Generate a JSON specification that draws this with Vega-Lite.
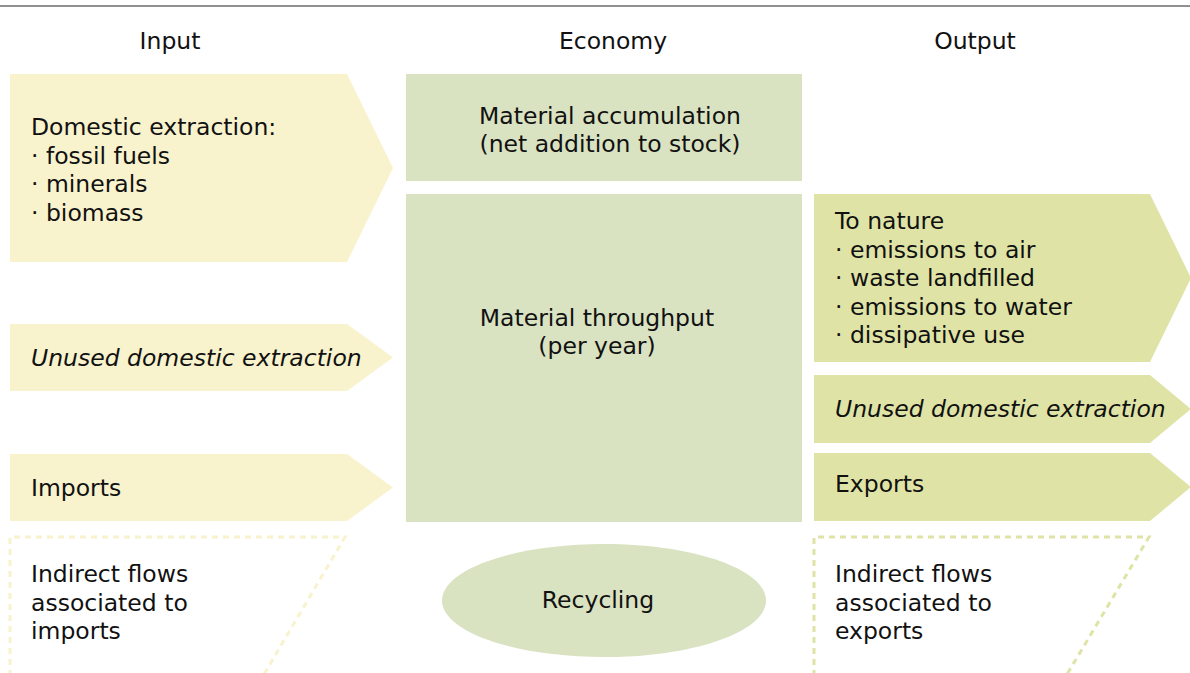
{
  "$schema": "https://vega.github.io/schema/vega-lite/v6.json",
  "width": 1190,
  "height": 673,
  "autosize": "none",
  "padding": 0,
  "background": "white",
  "config": {"view": {"stroke": null}, "font": "DejaVu Sans"},
  "datasets": {
    "arrows": [
      {"id": "in1", "grp": "input", "x": 10, "yt": 74, "yb": 262},
      {"id": "in1", "grp": "input", "x": 347, "yt": 74, "yb": 262},
      {"id": "in1", "grp": "input", "x": 393, "yt": 168, "yb": 168},
      {"id": "in2", "grp": "input", "x": 10, "yt": 324, "yb": 391},
      {"id": "in2", "grp": "input", "x": 347, "yt": 324, "yb": 391},
      {"id": "in2", "grp": "input", "x": 393, "yt": 357.5, "yb": 357.5},
      {"id": "in3", "grp": "input", "x": 10, "yt": 454, "yb": 521},
      {"id": "in3", "grp": "input", "x": 347, "yt": 454, "yb": 521},
      {"id": "in3", "grp": "input", "x": 393, "yt": 487.5, "yb": 487.5},
      {"id": "out1", "grp": "output", "x": 814, "yt": 194, "yb": 362},
      {"id": "out1", "grp": "output", "x": 1150, "yt": 194, "yb": 362},
      {"id": "out1", "grp": "output", "x": 1191, "yt": 278, "yb": 278},
      {"id": "out2", "grp": "output", "x": 814, "yt": 375, "yb": 443},
      {"id": "out2", "grp": "output", "x": 1150, "yt": 375, "yb": 443},
      {"id": "out2", "grp": "output", "x": 1191, "yt": 409, "yb": 409},
      {"id": "out3", "grp": "output", "x": 814, "yt": 453, "yb": 521},
      {"id": "out3", "grp": "output", "x": 1150, "yt": 453, "yb": 521},
      {"id": "out3", "grp": "output", "x": 1191, "yt": 487, "yb": 487}
    ],
    "boxes": [
      {"id": "accumulation", "x": 406, "x2": 802, "y": 74, "y2": 181},
      {"id": "throughput", "x": 406, "x2": 802, "y": 194, "y2": 522}
    ],
    "dashes": [
      {"id": "indirect_imports", "grp": "input", "ord": 1, "x": 10, "y": 676},
      {"id": "indirect_imports", "grp": "input", "ord": 2, "x": 10, "y": 537},
      {"id": "indirect_imports", "grp": "input", "ord": 3, "x": 345, "y": 537},
      {"id": "indirect_imports", "grp": "input", "ord": 4, "x": 263, "y": 676},
      {"id": "indirect_exports", "grp": "output", "ord": 1, "x": 814, "y": 676},
      {"id": "indirect_exports", "grp": "output", "ord": 2, "x": 814, "y": 537},
      {"id": "indirect_exports", "grp": "output", "ord": 3, "x": 1149, "y": 537},
      {"id": "indirect_exports", "grp": "output", "ord": 4, "x": 1066, "y": 676}
    ],
    "ellipses": [{"id": "recycling", "x": 604, "y": 600.5}],
    "frame": [{"x": 0, "x2": 1190, "y": 6}],
    "labelsLeft": [
      {"text": "Domestic extraction:\n· fossil fuels\n· minerals\n· biomass", "x": 31, "y": 128, "italic": false},
      {"text": "Unused domestic extraction", "x": 31, "y": 358.5, "italic": true},
      {"text": "Imports", "x": 31, "y": 488.5, "italic": false},
      {"text": "Indirect flows\nassociated to\nimports", "x": 31, "y": 575, "italic": false},
      {"text": "To nature\n· emissions to air\n· waste landfilled\n· emissions to water\n· dissipative use", "x": 835, "y": 222, "italic": false},
      {"text": "Unused domestic extraction", "x": 835, "y": 409.5, "italic": true},
      {"text": "Exports", "x": 835, "y": 485, "italic": false},
      {"text": "Indirect flows\nassociated to\nexports", "x": 835, "y": 575, "italic": false}
    ],
    "labelsCenter": [
      {"text": "Input", "x": 170, "y": 42},
      {"text": "Economy", "x": 613, "y": 42},
      {"text": "Output", "x": 975, "y": 42},
      {"text": "Material accumulation\n(net addition to stock)", "x": 610, "y": 116.5},
      {"text": "Material throughput\n(per year)", "x": 597, "y": 318.5},
      {"text": "Recycling", "x": 598, "y": 601}
    ]
  },
  "layer": [
    {
      "data": {"name": "frame"},
      "mark": {"type": "rule", "color": "#222222", "strokeWidth": 1},
      "encoding": {
        "x": {"field": "x", "type": "quantitative", "scale": {"domain": [0, 1190]}, "axis": null},
        "x2": {"field": "x2"},
        "y": {"field": "y", "type": "quantitative", "scale": {"domain": [0, 673], "reverse": true}, "axis": null}
      }
    },
    {
      "data": {"name": "arrows"},
      "mark": {"type": "area", "interpolate": "linear", "opacity": 1},
      "encoding": {
        "x": {"field": "x", "type": "quantitative", "scale": {"domain": [0, 1190]}, "axis": null},
        "y": {"field": "yt", "type": "quantitative", "scale": {"domain": [0, 673], "reverse": true}, "axis": null},
        "y2": {"field": "yb"},
        "detail": {"field": "id"},
        "color": {"field": "grp", "type": "nominal", "scale": {"domain": ["input", "output"], "range": ["#F8F2CD", "#DFE4A6"]}, "legend": null}
      }
    },
    {
      "data": {"name": "boxes"},
      "mark": {"type": "rect", "color": "#D9E2C1"},
      "encoding": {
        "x": {"field": "x", "type": "quantitative", "scale": {"domain": [0, 1190]}, "axis": null},
        "x2": {"field": "x2"},
        "y": {"field": "y", "type": "quantitative", "scale": {"domain": [0, 673], "reverse": true}, "axis": null},
        "y2": {"field": "y2"}
      }
    },
    {
      "data": {"name": "dashes"},
      "mark": {"type": "line", "strokeWidth": 3, "strokeDash": [6, 5], "interpolate": "linear"},
      "encoding": {
        "x": {"field": "x", "type": "quantitative", "scale": {"domain": [0, 1190]}, "axis": null},
        "y": {"field": "y", "type": "quantitative", "scale": {"domain": [0, 673], "reverse": true}, "axis": null},
        "order": {"field": "ord", "type": "quantitative"},
        "detail": {"field": "id"},
        "color": {"field": "grp", "type": "nominal", "scale": {"domain": ["input", "output"], "range": ["#F6EEC4", "#DFE4A6"]}, "legend": null}
      }
    },
    {
      "data": {"name": "ellipses"},
      "mark": {"type": "point", "filled": true, "opacity": 1, "color": "#D9E2C1", "shape": "M-1,0A1,0.349,0,1,0,1,0A1,0.349,0,1,0,-1,0Z", "size": 104976},
      "encoding": {
        "x": {"field": "x", "type": "quantitative", "scale": {"domain": [0, 1190]}, "axis": null},
        "y": {"field": "y", "type": "quantitative", "scale": {"domain": [0, 673], "reverse": true}, "axis": null}
      }
    },
    {
      "data": {"name": "labelsLeft"},
      "transform": [{"filter": "!datum.italic"}],
      "mark": {"type": "text", "align": "left", "baseline": "middle", "fontSize": 23.5, "lineHeight": 28.5, "lineBreak": "\n", "color": "#111111", "font": "DejaVu Sans"},
      "encoding": {
        "x": {"field": "x", "type": "quantitative", "scale": {"domain": [0, 1190]}, "axis": null},
        "y": {"field": "y", "type": "quantitative", "scale": {"domain": [0, 673], "reverse": true}, "axis": null},
        "text": {"field": "text"}
      }
    },
    {
      "data": {"name": "labelsLeft"},
      "transform": [{"filter": "datum.italic"}],
      "mark": {"type": "text", "align": "left", "baseline": "middle", "fontSize": 23.5, "fontStyle": "italic", "lineHeight": 28.5, "lineBreak": "\n", "color": "#111111", "font": "DejaVu Sans"},
      "encoding": {
        "x": {"field": "x", "type": "quantitative", "scale": {"domain": [0, 1190]}, "axis": null},
        "y": {"field": "y", "type": "quantitative", "scale": {"domain": [0, 673], "reverse": true}, "axis": null},
        "text": {"field": "text"}
      }
    },
    {
      "data": {"name": "labelsCenter"},
      "mark": {"type": "text", "align": "center", "baseline": "middle", "fontSize": 23.5, "lineHeight": 28.5, "lineBreak": "\n", "color": "#111111", "font": "DejaVu Sans"},
      "encoding": {
        "x": {"field": "x", "type": "quantitative", "scale": {"domain": [0, 1190]}, "axis": null},
        "y": {"field": "y", "type": "quantitative", "scale": {"domain": [0, 673], "reverse": true}, "axis": null},
        "text": {"field": "text"}
      }
    }
  ]
}
